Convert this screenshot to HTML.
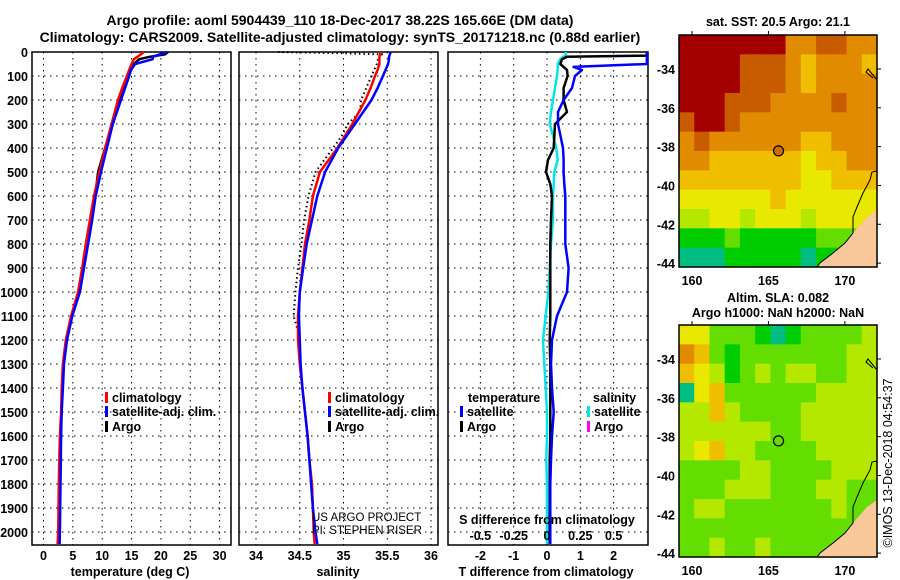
<!DOCTYPE html>
<html><head><meta charset="utf-8"><style>
body{margin:0;background:#fff}
svg{display:block;font-family:"Liberation Sans",sans-serif}
.b{font-weight:bold;font-size:12.5px}
.n{font-weight:normal;font-size:11.5px}
</style></head><body>
<svg id="s" width="900" height="580" viewBox="0 0 900 580" xmlns="http://www.w3.org/2000/svg">
<text x="340" y="25" text-anchor="middle" class="b" style="font-size:14px">Argo profile: aoml 5904439_110 18-Dec-2017 38.22S 165.66E (DM data)</text>
<text x="340" y="42" text-anchor="middle" class="b" style="font-size:14px">Climatology: CARS2009. Satellite-adjusted climatology: synTS_20171218.nc (0.88d earlier)</text>
<g id="g"></g>
</svg>
<script>
const depths=[0,10,20,30,50,75,100,150,200,300,400,500,600,700,800,900,1000,1100,1200,1300,1400,1500,1600,1700,1800,1900,2000,2050];
const tClim=[17.1,16.6,16.0,15.4,15.0,14.6,14.2,13.4,12.7,11.6,10.5,9.5,8.6,7.9,7.2,6.6,5.9,4.7,3.8,3.3,3.1,3.0,2.8,2.7,2.6,2.55,2.5,2.4];
const tSat=[21.0,19.8,18.6,18.6,15.6,14.9,14.6,13.9,13.2,11.8,10.8,9.8,8.9,8.3,7.6,6.9,6.2,4.9,4.0,3.5,3.3,3.1,3.0,2.95,2.9,2.85,2.8,2.75];
const tArgo=[21.2,20.7,18.1,16.3,15.4,14.7,14.4,13.7,13.0,11.8,10.5,9.3,8.8,8.1,7.4,6.8,6.1,4.8,3.9,3.4,3.2,3.05,2.95,2.9,2.85,2.8,2.75,2.7];
const sClim=[35.42,35.42,35.41,35.41,35.41,35.39,35.36,35.31,35.25,35.1,34.93,34.73,34.65,34.61,34.56,34.53,34.5,34.48,34.48,34.5,34.53,34.56,34.59,34.61,34.64,34.65,34.66,34.67];
const sSat=[35.54,35.53,35.52,35.52,35.51,35.48,35.45,35.39,35.32,35.13,34.94,34.79,34.7,34.64,34.58,34.54,34.5,34.49,34.5,34.51,34.53,34.56,34.59,34.61,34.63,34.65,34.68,34.7];
const sArgoDepths=[0,5,10,20,50,100,200,250,300,350,400,500,600,700,800,900,1000,1100,1150];
const sArgo=[34.25,35.0,35.45,35.4,35.38,35.32,35.2,35.19,35.05,34.98,34.88,34.68,34.6,34.55,34.52,34.48,34.45,34.43,34.47];
const dDepths=[0,15,20,30,50,62,75,100,150,200,250,300,400,450,500,550,600,700,800,900,1000,1100,1200,1300,1400,1500,1600,1700,1800,1900,2000,2050];
const dTArgo=[3,3,0.6,0.45,0.4,0.5,0.6,0.62,0.5,0.5,0.6,0.24,0.2,0.03,-0.03,0.1,0.15,0.12,0.1,0.1,0.1,0.1,0.08,0.1,0.1,0.1,0.1,0.08,0.08,0.08,0.08,0.08];
const dTSat=[3,3,3,3,3,0.8,1.05,0.84,0.75,0.5,0.33,0.33,0.48,0.5,0.5,0.52,0.55,0.55,0.55,0.65,0.6,0.3,0.15,0.12,0.15,0.2,0.15,0.12,0.1,0.1,0.1,0.1];
const dSSat=[0.14,0.14,0.12,0.1,0.08,0.08,0.08,0.075,0.06,0.045,0.03,0.02,0.07,0.08,0.055,0.05,0.045,0.045,0.03,0.02,0.01,-0.01,-0.03,-0.02,-0.01,0.0,0.0,-0.005,0.0,0.0,0.0,0.0];
const depthTicks=[0,100,200,300,400,500,600,700,800,900,1000,1100,1200,1300,1400,1500,1600,1700,1800,1900,2000];
const tTicks=[0,5,10,15,20,25,30];
const sTicks=[34,34.5,35,35.5,36];
const sTickLabels=["34","34.5","35","35.5","36"];
const dTTicks=[-2,-1,0,1,2];
const dSTicks=[-0.5,-0.25,0,0.25,0.5];
const dSTickLabels=["-0.5","-0.25","0","0.25","0.5"];
const lonTicks=[160,165,170];
const latTicks=[-34,-36,-38,-40,-42,-44];
const sstGrid=[
[9,9,9,9,9,9,9,7,7,8,8,7,7],
[9,9,9,9,8,8,8,7,6,7,7,7,6],
[9,9,9,9,8,8,8,7,6,7,7,7,7],
[9,9,9,8,8,8,7,7,7,7,8,7,7],
[8,9,9,8,7,7,7,7,7,7,7,7,7],
[7,8,7,7,7,7,7,7,6,6,7,7,7],
[7,7,6,6,6,6,6,6,5,6,6,7,7],
[6,6,6,6,6,6,6,6,5,5,6,6,6],
[5,5,5,5,5,5,6,5,5,5,5,5,5],
[4,4,5,5,4,5,5,5,4,5,5,5,5],
[2,2,2,3,2,2,2,2,2,3,3,3,3],
[1,1,1,2,2,2,2,2,1,2,2,2,2]];
const slaGrid=[
[5,5,3,3,3,2,1,2,3,3,3,3,4],
[7,6,3,2,3,3,3,3,3,3,3,4,4],
[6,5,4,2,3,4,3,4,4,3,3,4,4],
[1,5,6,3,3,3,3,3,3,4,4,4,4],
[4,4,6,4,3,3,3,3,4,4,4,4,4],
[4,4,4,4,4,4,3,3,4,4,4,4,4],
[4,5,6,4,4,3,3,3,3,4,4,4,4],
[3,3,3,3,4,4,3,3,3,3,4,4,4],
[3,3,3,4,4,4,3,3,3,4,4,3,3],
[3,4,4,3,3,3,3,3,3,3,4,3,3],
[3,3,3,3,3,3,3,3,3,3,3,3,3],
[3,3,4,3,3,4,3,3,3,3,3,3,3]];
const cmap=["rgb(0,200,200)","rgb(0,190,130)","rgb(0,205,0)","rgb(100,222,0)","rgb(180,232,0)","rgb(232,232,0)","rgb(240,190,0)","rgb(225,140,0)","rgb(200,90,0)","rgb(165,0,0)"];
const floatLon=165.66, floatLat=-38.22;

const NS="http://www.w3.org/2000/svg";
const G=document.getElementById('g');
function el(t,a,txt){const e=document.createElementNS(NS,t);for(const k in a)e.setAttribute(k,a[k]);if(txt!==undefined)e.textContent=txt;G.appendChild(e);return e;}
const yD=d=>52+d*0.24;
const xT=t=>43.5+t*5.87;
const xS=s=>256+(s-34)*87.5;
const xDT=d=>547+d*33.3;
const xDS=d=>547+d*133.3;
const Y0=52,Y1=545;

function panel(x0,x1,vt,name){
  for(const d of depthTicks){let l=el('line',{x1:x0,x2:x1,y1:yD(d),y2:yD(d),stroke:'#000','stroke-dasharray':'1.5,4.5'});
    }
  for(const x of vt){let l=el('line',{x1:x,x2:x,y1:Y0,y2:Y1,stroke:'#000','stroke-dasharray':'1.5,4.5'});
    }
  let r=el('rect',{x:x0,y:Y0,width:x1-x0,height:Y1-Y0,fill:'none',stroke:'#000','stroke-width':1.5});
  
}
function line(xs,ys,fx,color,name,dash,w){
  const p=xs.map((v,i)=>fx(v).toFixed(1)+','+yD(ys[i]).toFixed(1)).join(' ');
  const a={points:p,fill:'none',stroke:color,'stroke-width':w||2.5,'stroke-linejoin':'round'};
  if(dash)a['stroke-dasharray']=dash;
  const e=el('polyline',a);
  
}
function txt(x,y,s,anchor,cls,name,extra){const a={x:x,y:y,'text-anchor':anchor||'start','class':cls};Object.assign(a,extra||{});const e=el('text',a,s);
  return e;}
function legend(x,y,color,label,name){
  let r=el('rect',{x:x,y:y-10,width:3,height:11,fill:color});
  txt(x+7,y,label,'start','b',name+'-label');
}

panel(32,231,tTicks.map(xT),'temp-panel');
depthTicks.forEach(d=>txt(28,yD(d)+5,String(d),'end','b','depth-tick-label'));
tTicks.forEach(t=>txt(xT(t),560,String(t),'middle','b','temp-tick-label'));
txt(130,576,'temperature (deg C)','middle','b','temp-axis-title');
line(tArgo,depths,xT,'#000','temp-argo-line');
line(tClim,depths,xT,'#ff0000','temp-clim-line');
line(tSat,depths,xT,'#0000ff','temp-sat-line');
legend(105,402,'#ff0000','climatology','temp-legend-clim');
legend(105,416,'#0000ff','satellite-adj. clim.','temp-legend-sat');
legend(105,431,'#000','Argo','temp-legend-argo');

panel(239,438,sTicks.map(xS),'sal-panel');
sTicks.forEach((s,i)=>txt(xS(s),560,sTickLabels[i],'middle','b','sal-tick-label'));
txt(338,576,'salinity','middle','b','sal-axis-title');
line(sArgo,sArgoDepths,xS,'#000','sal-argo-line','1.5,3',2);
line(sClim,depths,xS,'#ff0000','sal-clim-line');
line(sSat,depths,xS,'#0000ff','sal-sat-line');
legend(328,402,'#ff0000','climatology','sal-legend-clim');
legend(328,416,'#0000ff','satellite-adj. clim.','sal-legend-sat');
legend(328,431,'#000','Argo','sal-legend-argo');
txt(312,521,'US ARGO PROJECT','start','n','credit-project');
txt(312,534,'PI: STEPHEN RISER','start','n','credit-pi');

panel(448,648,dTTicks.map(xDT),'diff-panel');
dTTicks.forEach(t=>txt(xDT(t),560,String(t),'middle','b','dt-tick-label'));
txt(546,576,'T difference from climatology','middle','b','dt-axis-title');
line(dSSat,dDepths,xDS,'#00e5ee','ds-sat-line');
line(dTArgo,dDepths,xDT,'#000','dt-argo-line');
line(dTSat,dDepths,xDT,'#0000ff','dt-sat-line');
txt(547,524,'S difference from climatology','middle','b','ds-axis-title');
dSTicks.forEach((t,i)=>txt(xDS(t),540,dSTickLabels[i],'middle','b','ds-tick-label'));
txt(468,402,'temperature','start','b','diff-legend-temp-head');
legend(460,416,'#0000ff','satellite','diff-legend-tsat');
legend(460,431,'#000','Argo','diff-legend-targo');
txt(593,402,'salinity','start','b','diff-legend-sal-head');
legend(587,416,'#00e5ee','satellite','diff-legend-ssat');
legend(587,431,'#ff00ff','Argo','diff-legend-sargo');

function map(top,grid,name,fillCircle){
  const x0=679,x1=877,lon0=159.15,lon1=172.1,lat0=-32.25,lat1=-44.2;
  const mx=l=>x0+(l-lon0)*(x1-x0)/(lon1-lon0);
  const my=l=>top+(lat0-l)*232/(lat0-lat1);
  const nr=grid.length,nc=grid[0].length,cw=(x1-x0)/nc,ch=232/nr;
  grid.forEach((row,r)=>row.forEach((v,c)=>{
    const e=el('rect',{x:x0+c*cw,y:top+r*ch,width:cw+0.6,height:ch+0.6,fill:cmap[v]});
    
  }));
  const o=top-35;
  const land=el('polygon',{points:`877,${210+o} 867,${217+o} 853,${233+o} 845,${243+o} 833,${253+o} 820,${263+o} 817,${267+o} 877,${267+o}`,fill:'#f9c89b'});
  
  const coast=el('polyline',{points:`877,${171+o} 872,${172+o} 870,${180+o} 863,${193+o} 857,${207+o} 853,${217+o} 853,${233+o} 845,${243+o} 833,${253+o} 820,${263+o} 817,${267+o}`,fill:'none',stroke:'#000','stroke-width':1});
  
  const isl=el('polyline',{points:`877,${80+o} 868,${69+o} 866,${72+o} 873,${78+o}`,fill:'none',stroke:'#000','stroke-width':1});
  
  const fr=el('rect',{x:x0,y:top,width:x1-x0,height:232,fill:'none',stroke:'#000','stroke-width':1.5});
  
  lonTicks.forEach(l=>{txt(mx(l),top+250,String(l),'middle','b',name+'-lon-label');
    let t=el('line',{x1:mx(l),x2:mx(l),y1:top-4,y2:top,stroke:'#000'});});
  latTicks.forEach(l=>{txt(675,my(l)+5,String(l),'end','b',name+'-lat-label');
    let t=el('line',{x1:x1,x2:x1+4,y1:my(l),y2:my(l),stroke:'#000'});});
  const c=el('circle',{cx:mx(floatLon),cy:my(floatLat),r:5,fill:fillCircle,stroke:'#000','stroke-width':1.2});
  
}
map(35,sstGrid,'sst-map','rgb(210,110,0)');
map(325,slaGrid,'sla-map','none');
txt(778,26,'sat. SST: 20.5 Argo: 21.1','middle','b','sst-map-title');
txt(778,302,'Altim. SLA: 0.082','middle','b','sla-map-title');
txt(778,317,'Argo h1000: NaN h2000: NaN','middle','b','sla-map-subtitle');
txt(0,0,'©IMOS 13-Dec-2018 04:54:37','middle','n','imos-timestamp',{style:'font-size:12.5px',transform:'translate(892,463) rotate(-90)'});
</script>
</body></html>
